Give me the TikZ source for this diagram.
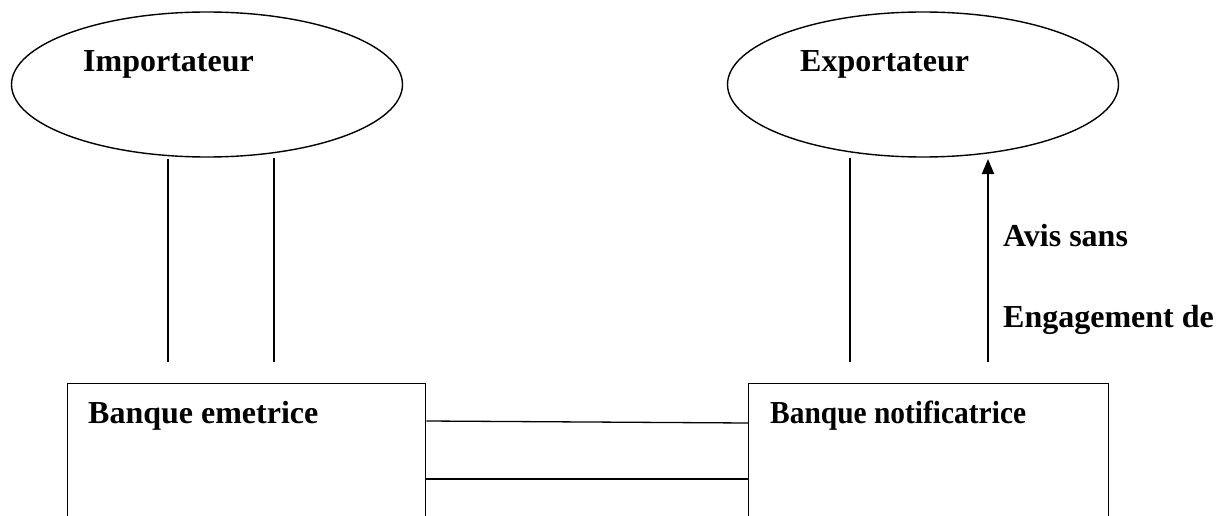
\documentclass[tikz,border=0pt]{standalone}
\usepackage{fontspec}
\setmainfont{Liberation Serif}
\usetikzlibrary{shapes.geometric,arrows.meta}
\begin{document}
\begin{tikzpicture}[x=1pt,y=-1pt,
  actor/.style={draw,ellipse,line width=1.4pt,minimum width=391pt,minimum height=145pt,inner sep=0pt},
  bank/.style={draw,rectangle,line width=1.4pt,inner sep=0pt},
  lbl/.style={anchor=base west,inner sep=0pt,font=\fontsize{32}{36}\selectfont\bfseries},
  link/.style={line width=1.3pt},
  flow/.style={line width=2pt,-{Triangle[length=15pt,width=12pt]}}]
\useasboundingbox (0,0) rectangle (1222,516);
\begin{scope}
\clip (0,0) rectangle (1222,516);
% parties
\node[actor] (imp) at (207,84.5) {};
\node[actor] (exp) at (923,84.5) {};
\node[lbl] (impt) at (83,72) {Importateur};
\node[lbl] (expt) at (800,72) {Exportateur};
% banks (open at the bottom of the page)
\node[bank,minimum width=358pt,minimum height=180pt,anchor=north west] (emet) at (67,383) {};
\node[bank,minimum width=360pt,minimum height=180pt,anchor=north west] (notif) at (748,383) {};
\node[lbl] (emett) at (88,423) {Banque emetrice};
\node[lbl,xscale=0.92] (notift) at (770,423) {Banque notificatrice};
% links between parties and banks
\coordinate (e1) at (168,362);
\coordinate (e2) at (274,362);
\coordinate (n1) at (850,362);
\coordinate (n2) at (988,362);
\draw[link] (imp.south -| e1) ++(0,1.5) -- (e1);
\draw[link] (imp.south -| e2) -- (e2);
\draw[link] (exp.south -| n1) -- (n1);
\draw[flow] (n2) -- (988,159);
\node[lbl] (avis) at (1003,246) {Avis sans};
\node[lbl] (eng) at (1003,327) {Engagement de};
% links between the banks
\draw[link] (emet.east |- 0,421) -- (notif.west |- 0,423);
\draw[link] (emet.east |- 0,479) -- (notif.west |- 0,479);
\end{scope}
\end{tikzpicture}
\end{document}
